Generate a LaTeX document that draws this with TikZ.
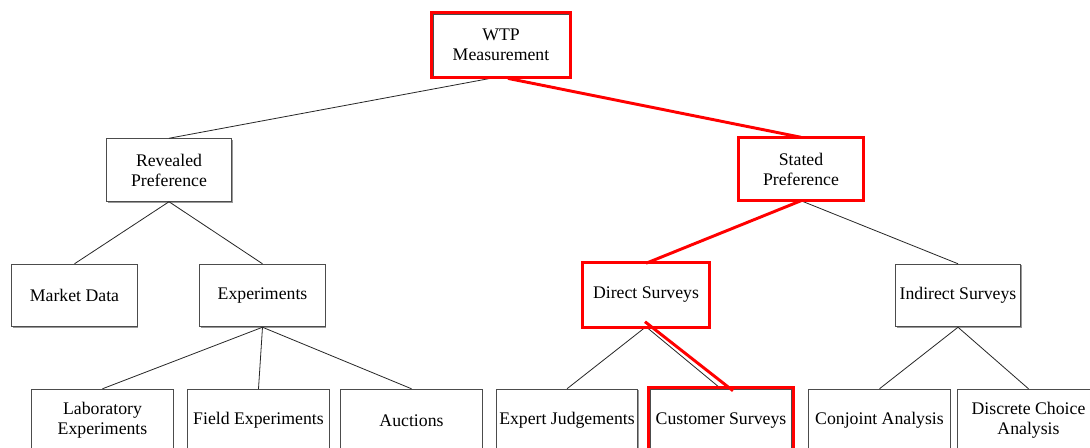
\documentclass[tikz,border=0pt]{standalone}
\usepackage{fontspec}
\setmainfont{Liberation Serif}
\usetikzlibrary{fit, shadows}
\tikzset{
  tree node/.style={
    draw=black!70,
    fill=white,
    line width=0.6pt,
    align=center,
    inner sep=0pt,
    font=\fontsize{13.3}{15}\selectfont,
    drop shadow={shadow xshift=0.9pt, shadow yshift=-0.9pt, fill=black!40, opacity=1},
  },
  mid node/.style={tree node, minimum width=94pt, minimum height=47pt},
  leaf node/.style={tree node, minimum width=106pt, minimum height=47pt},
  edge/.style={draw=black!85, line width=0.6pt},
  redbox/.style={draw=red, line width=2.2pt, inner sep=0pt},
  redline/.style={draw=red, line width=2.2pt},
}

\begin{document}
\begin{tikzpicture}[x=0.75pt, y=-0.75pt]
      \useasboundingbox (0,0) rectangle (1090,447);
      \fill[white] (0,0) rectangle (1090,447);
      \clip (0,0) rectangle (1090,447);

      \node[tree node, minimum width=102pt, minimum height=46.5pt] (wtp) at (501,45) {WTP\\Measurement};
      \node[mid node] (rp) at (169,170) {Revealed\\Preference};
      \node[mid node] (sp) at (801,169) {Stated\\Preference};
      \node[mid node] (md) at (74.5,295.5) {Market Data};
      \node[mid node] (ex) at (262.5,295.5) {Experiments};
      \node[mid node] (ds) at (646,295) {Direct Surveys};
      \node[mid node] (is) at (958,295.5) {Indirect Surveys};
      \node[leaf node] (le) at (102.5,420.5) {Laboratory\\Experiments};
      \node[leaf node] (fe) at (258.5,420.5) {Field Experiments};
      \node[leaf node] (au) at (411.5,420.5) {Auctions};
      \node[leaf node] (ej) at (567,420.5) {Expert Judgements};
      \node[leaf node] (cs) at (721,420.5) {Customer Surveys};
      \node[leaf node] (ca) at (879.5,420.5) {Conjoint Analysis};
      \node[leaf node] (dc) at (1028.5,420.5) {Discrete Choice\\Analysis};

      \draw[edge] (wtp.south) -- (rp.north);
      \draw[edge] (wtp.south) -- (sp.north);

      \draw[edge] (rp.south) -- (md.north);
      \draw[edge] (rp.south) -- (ex.north);
      \draw[edge] (sp.south) -- (ds.north);
      \draw[edge] (sp.south) -- (is.north);

      \draw[edge] (ex.south) -- (le.north);
      \draw[edge] (ex.south) -- (fe.north);
      \draw[edge] (ex.south) -- (au.north);
      \draw[edge] (ds.south) -- (ej.north);
      \draw[edge] (ds.south) -- (cs.north);
      \draw[edge] (is.south) -- (ca.north);
      \draw[edge] (is.south) -- (dc.north);

      % highlighted path
      \node[redbox, fit=(wtp), inner sep=0.9pt] (wtpmark) {};
      \node[redbox, fit=(sp), inner sep=-0.3pt] (spmark) {};
      \node[redbox, fit=(ds), inner sep=0.6pt] (dsmark) {};
      \node[redbox, fit=(cs), inner sep=1pt] (csmark) {};
      \draw[redline] ([shift={(7,2)}]wtp.south) -- (sp.north);
      \draw[redline] (sp.south) -- (ds.north);
      \draw[redline] ([shift={(-1,-5)}]ds.south) -- ([shift={(12,2)}]cs.north);
    \end{tikzpicture}
\end{document}
